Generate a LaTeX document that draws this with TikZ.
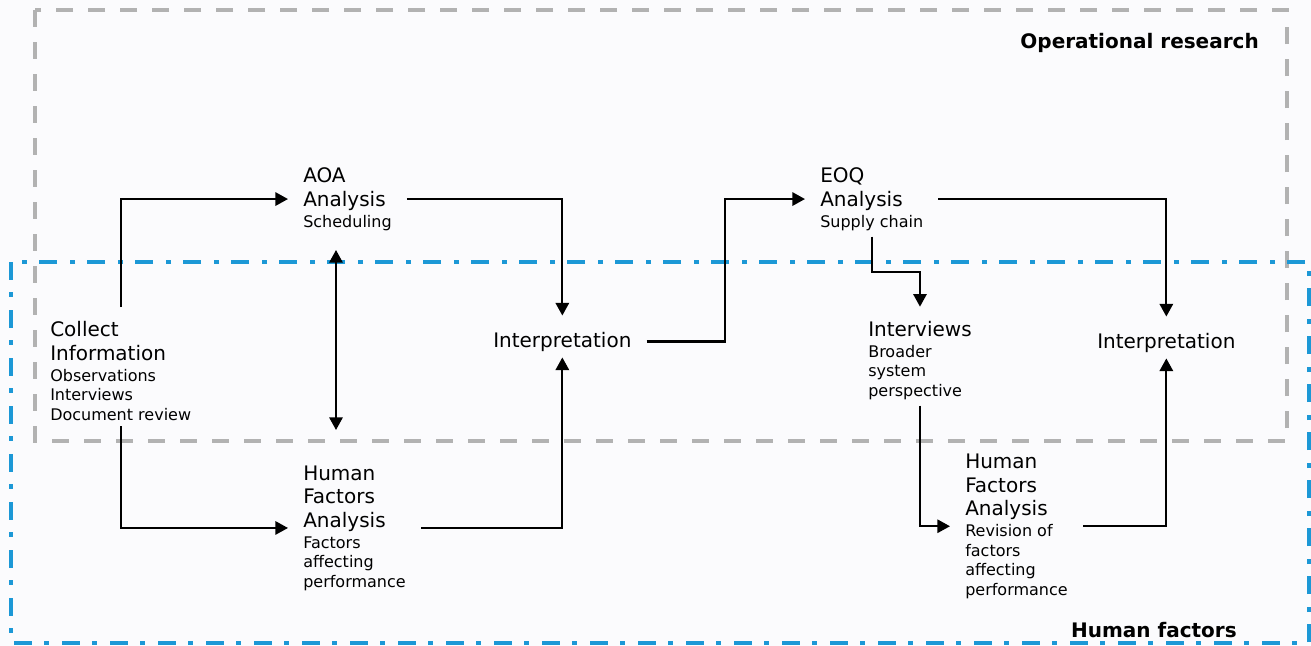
\documentclass[tikz,border=0pt]{standalone}
\usepackage{fontspec}
\setmainfont{DejaVu Sans}
\usepackage{tikz}
\usetikzlibrary{arrows.meta}

\definecolor{orgray}{RGB}{178,178,178}
\definecolor{hfblue}{RGB}{28,152,214}
\definecolor{paper}{RGB}{251,251,253}

\newcommand{\subtext}[1]{{\fontsize{12}{14.6}\selectfont #1}}

\begin{document}
\begin{tikzpicture}[x=0.75pt, y=-0.75pt,
    % nodes sit on the baseline of their last line
    every node/.style={font=\fontsize{15}{17.6}\selectfont, align=left,
      inner xsep=11.25pt, inner ysep=4.5pt, anchor=base west},
    title/.style={font=\fontsize{15}{17}\selectfont\bfseries, inner sep=0pt, anchor=base east},
    flow/.style={-{Triangle[length=9.5pt,width=10pt]}, line width=1.6pt},
    both/.style={{Triangle[length=9.5pt,width=10pt]}-{Triangle[length=9.5pt,width=10pt]}, line width=1.6pt}]
  % paper
  \fill[paper] (0,0) rectangle (1311,646);
  % the two areas
  \draw[orgray, line width=3pt, dash pattern=on 12.75pt off 11.25pt] (35,10) rectangle (1287,441);
  \draw[hfblue, line width=3pt, dash pattern=on 13.5pt off 9pt on 3.75pt off 9.75pt] (11,262) rectangle (1309,643);
  \node[title] (or-title) at (1259,48) {Operational research};
  \node[title] (hf-title) at (1237,637) {Human factors};

  % first round
  \node (collect) at (35,420) {Collect\\Information\\[-1.9pt]\subtext{Observations}\\[-3pt]\subtext{Interviews}\\[-3pt]\subtext{Document review}};
  \node (aoa) at (288,227) {AOA\\Analysis\\[-1.9pt]\subtext{Scheduling}};
  \node (hfa) at (288,587) {Human\\Factors\\Analysis\\[-1.9pt]\subtext{Factors}\\[-3pt]\subtext{affecting}\\[-3pt]\subtext{performance}};
  \node (interp) at (478,347) {Interpretation};

  % second round
  \node (eoq) at (805,227) {EOQ\\Analysis\\[-1.9pt]\subtext{Supply chain}};
  \node (intv) at (853,396) {Interviews\\[-1.9pt]\subtext{Broader}\\[-3pt]\subtext{system}\\[-3pt]\subtext{perspective}};
  \node (hfb) at (950,595) {Human\\Factors\\Analysis\\[-1.9pt]\subtext{Revision of}\\[-3pt]\subtext{factors}\\[-3pt]\subtext{affecting}\\[-3pt]\subtext{performance}};
  \node (interpb) at (1082,348) {Interpretation};

  \coordinate (aoa-foot) at (336,250);
  \coordinate (hfa-head) at (336,430);

  % connectors
  \draw[flow] ([yshift=6pt]collect.north) |- (aoa.west);
  \draw[flow] (collect.south) |- (hfa.west);
  \draw[both] (aoa-foot) -- (hfa-head);
  \draw[flow] (aoa.east) -| ([yshift=7.5pt]interp.north);
  \draw[flow] (hfa.east) -| (interp.south);
  \draw[flow] (interp.east) -- ++(78,0) |- (eoq.west);
  \draw[flow] (eoq.east) -| ([yshift=7.5pt]interpb.north);
  \draw[flow] (eoq.south) -- ++(0,35) -| ([yshift=6pt]intv.north);
  \draw[flow] (intv.south) |- (hfb.west);
  \draw[flow] (hfb.east) -| (interpb.south);
\end{tikzpicture}
\end{document}
